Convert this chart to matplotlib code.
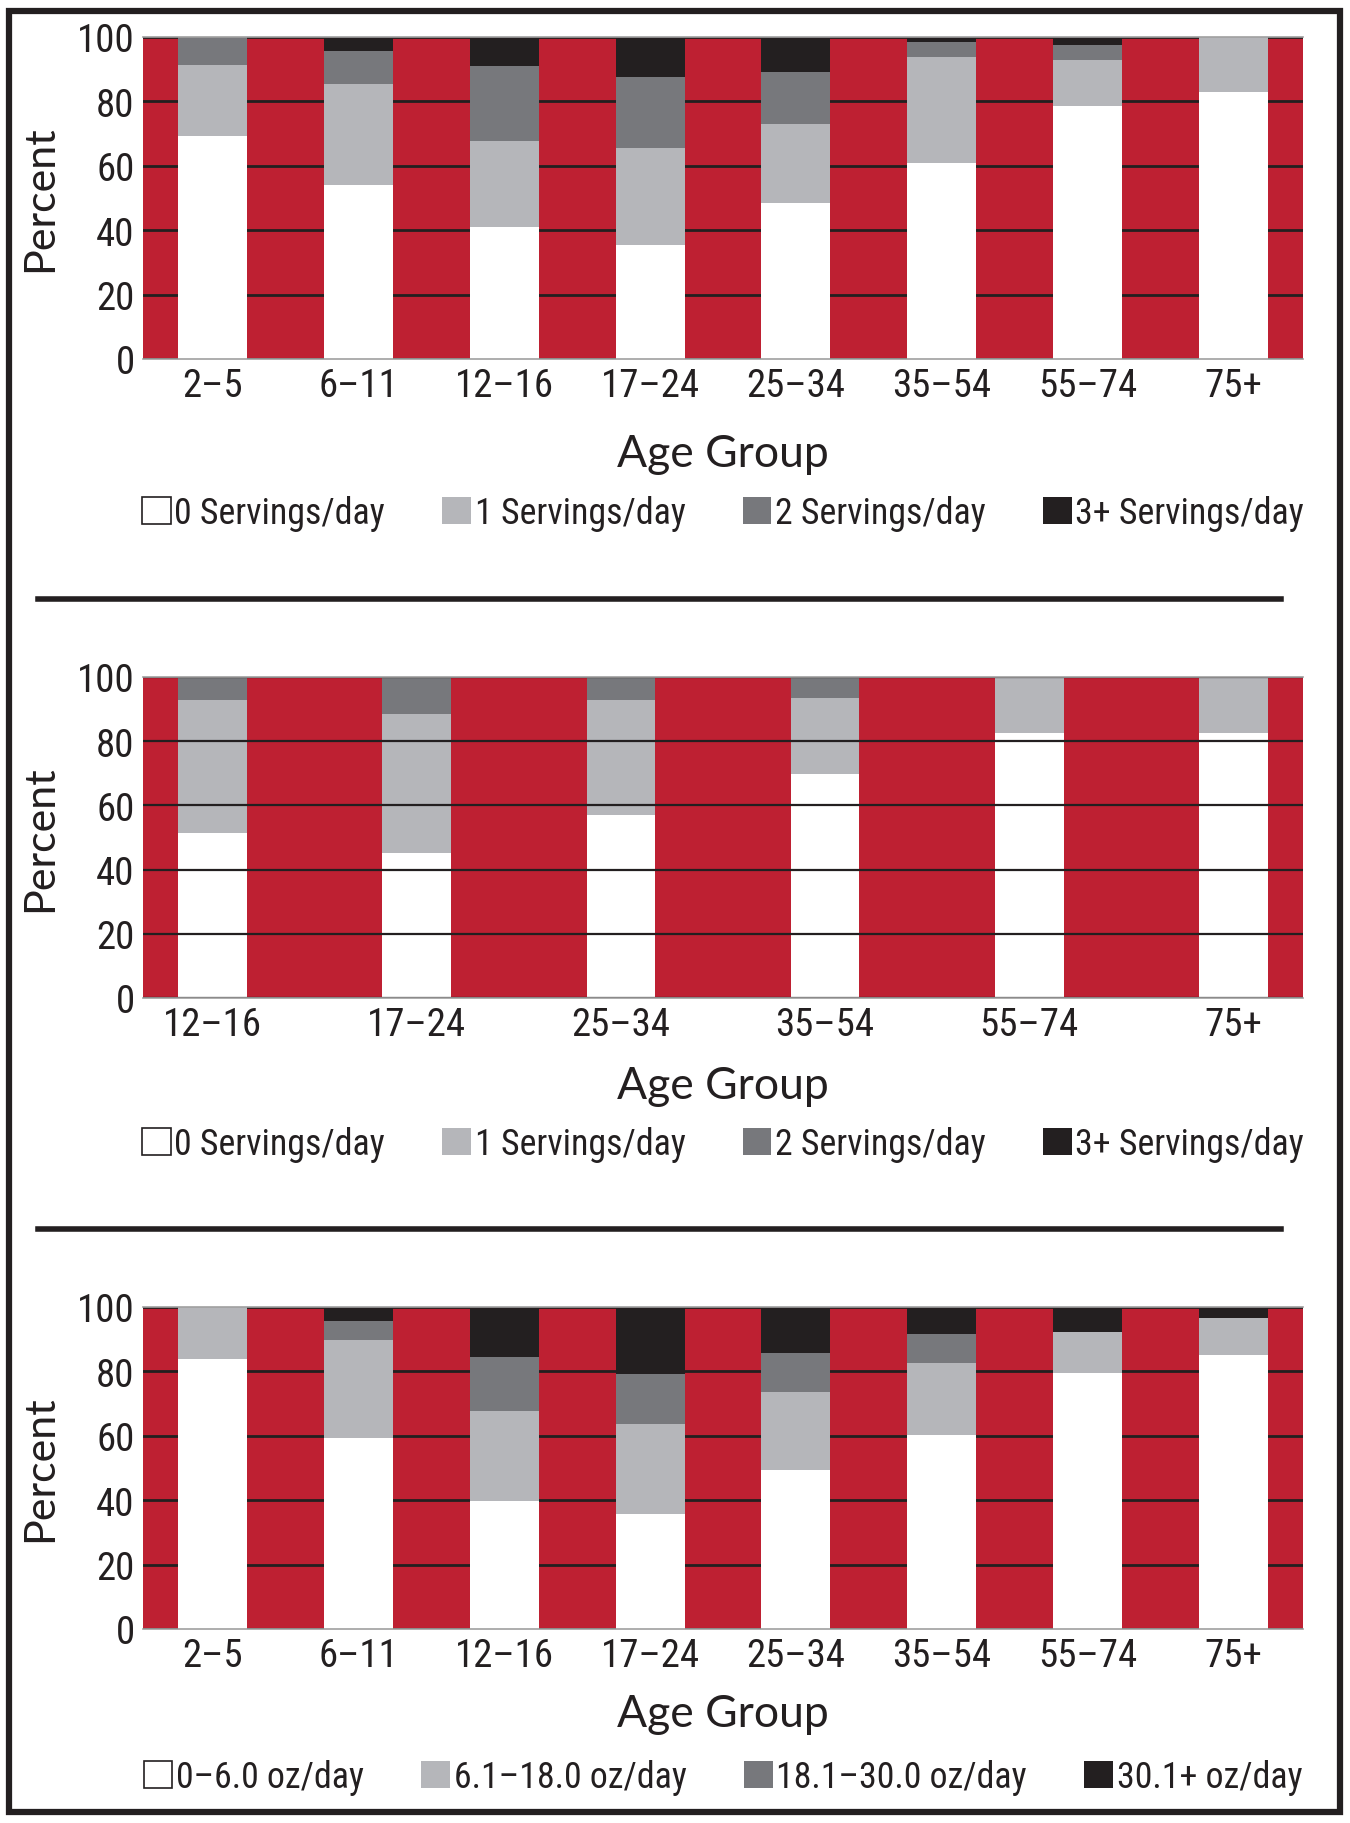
import matplotlib
matplotlib.use('Agg')
import numpy as np
import matplotlib.pyplot as plt
from matplotlib import font_manager
from matplotlib.patches import Patch, Rectangle
from matplotlib.lines import Line2D

# data (percent of each age group)
ages_all = ['2–5', '6–11', '12–16', '17–24', '25–34', '35–54', '55–74', '75+']
ages_teen = ['12–16', '17–24', '25–34', '35–54', '55–74', '75+']

serv_labels = ['0 Servings/day', '1 Servings/day', '2 Servings/day', '3+ Servings/day']
oz_labels = ['0–6.0 oz/day', '6.1–18.0 oz/day', '18.1–30.0 oz/day', '30.1+ oz/day']

# panel 1
p1_zero = [69.1, 54.1, 41.1, 35.3, 48.5, 60.8, 78.5, 83.0]
p1_one = [22.1, 31.4, 26.5, 30.1, 24.5, 33.0, 14.3, 17.0]
p1_two = [8.8, 10.0, 23.4, 22.1, 16.1, 4.5, 4.8, 0.0]
p1_three = [0.0, 4.5, 9.0, 12.5, 10.9, 1.7, 2.4, 0.0]

# panel 2
p2_zero = [51.3, 45.3, 57.0, 69.7, 82.4, 82.7]
p2_one = [41.6, 43.3, 35.9, 23.8, 17.6, 17.3]
p2_two = [7.1, 11.4, 7.1, 6.5, 0.0, 0.0]
p2_three = [0.0, 0.0, 0.0, 0.0, 0.0, 0.0]

# panel 3
p3_zero = [83.7, 59.2, 39.8, 35.6, 49.5, 60.3, 79.6, 85.2]
p3_one = [16.3, 30.6, 27.8, 28.0, 24.1, 22.3, 12.6, 11.5]
p3_two = [0.0, 6.0, 16.9, 15.7, 12.1, 9.1, 0.0, 0.0]
p3_three = [0.0, 4.2, 15.5, 20.7, 14.3, 8.3, 7.8, 3.3]

RED = '#BE2032'
INK = '#231F20'
COLS = ['#FFFFFF', '#B5B6BA', '#77787C', INK]

# look for a condensed face, the original uses one for ticks and legends
fonts = font_manager.fontManager.ttflist
names = {f.name for f in fonts}
NARROW = None
for cand in ['Liberation Sans Narrow', 'Roboto Condensed', 'Open Sans Condensed',
             'Noto Sans Condensed', 'DejaVu Sans Condensed']:
    if cand in names:
        NARROW = dict(family=cand)
        break
if NARROW is None:
    for f in fonts:
        if 'condensed' in str(f.stretch) and 'Sans' in f.name and 'CJK' not in f.name:
            NARROW = dict(family=f.name, stretch=f.stretch)
            break
if NARROW is None:
    NARROW = dict(family='Liberation Sans')
WIDE = 'Lato' if 'Lato' in names else 'Liberation Sans'
TICK_SIZE = 28 if NARROW['family'] != 'Liberation Sans' else 25

W, H = 1350, 1824
fig = plt.figure(figsize=(W / 100, H / 100), dpi=100)
fig.patch.set_facecolor('white')


def fx(px):
    return px / W


def fy(py):
    return 1 - py / H


def panel(top, bottom, labels, stacks, width, margin, leg_labels, grid_over, xl_y, leg_y):
    left, right = 143, 1303
    ax = fig.add_axes([fx(left), fy(bottom), fx(right - left), (bottom - top) / H])
    x = np.arange(len(labels))
    ax.set_facecolor(RED)
    base = np.zeros(len(labels))
    for vals, c in zip(stacks, COLS):
        vals = np.array(vals)
        ax.bar(x, vals, width, bottom=base, color=c, linewidth=0, zorder=2)
        base += vals
    ax.set_ylim(0, 100)
    ax.set_xlim(-width / 2 - margin, len(labels) - 1 + width / 2 + margin)
    ax.set_yticks(range(0, 101, 20))
    ax.set_xticks(x)
    ax.set_xticklabels(labels)
    ax.yaxis.grid(True, color=INK, lw=2 if not grid_over else 1.6)
    ax.xaxis.grid(False)
    ax.set_axisbelow(not grid_over)
    for s in ['left', 'right']:
        ax.spines[s].set_visible(False)
    for s in ['top', 'bottom']:
        ax.spines[s].set_color('#A0A0A0')
        ax.spines[s].set_linewidth(1.2)
        ax.spines[s].set_zorder(3)
    ax.tick_params(length=0, labelsize=TICK_SIZE, colors=INK)
    ax.tick_params(axis='y', pad=6)
    ax.tick_params(axis='x', pad=6)
    for t in ax.get_xticklabels() + ax.get_yticklabels():
        t.set_fontfamily(NARROW['family'])
        if 'stretch' in NARROW:
            t.set_fontstretch(NARROW['stretch'])
    ax.set_ylabel('Percent', fontsize=31, family=WIDE, color=INK)
    ax.yaxis.set_label_coords(-0.072, 0.5)
    ax.set_xlabel('Age Group', fontsize=32, family=WIDE, color=INK)
    ax.xaxis.set_label_coords(0.5, xl_y)
    handles = [Patch(facecolor=COLS[0], edgecolor=INK, linewidth=1.2)] + \
              [Patch(facecolor=c, edgecolor='none') for c in COLS[1:]]
    leg = ax.legend(handles, leg_labels, ncol=4, loc='center', bbox_to_anchor=(0.5, leg_y),
                    frameon=False, handlelength=0.8, handleheight=0.8, handletextpad=0.1,
                    columnspacing=1.6, borderpad=0, borderaxespad=0,
                    prop=dict(size=28, **NARROW), labelcolor=INK)
    # shrink legend so it spans about the width of the plot area
    fig.canvas.draw()
    wpx = leg.get_window_extent().width
    size = 28 * 1160 / wpx
    leg.remove()
    ax.legend(handles, leg_labels, ncol=4, loc='center', bbox_to_anchor=(0.5, leg_y),
              frameon=False, handlelength=0.8, handleheight=0.8, handletextpad=0.1,
              columnspacing=1.6, borderpad=0, borderaxespad=0,
              prop=dict(size=size, **NARROW), labelcolor=INK)
    return ax


panel(38, 360, ages_all, [p1_zero, p1_one, p1_two, p1_three], 0.4725, 0.242,
      serv_labels, False, -0.23, -0.478)
panel(678, 999, ages_teen, [p2_zero, p2_one, p2_two, p2_three], 0.337, 0.173,
      serv_labels, True, -0.21, -0.455)
panel(1308, 1630, ages_all, [p3_zero, p3_one, p3_two, p3_three], 0.4725, 0.242,
      oz_labels, False, -0.20, -0.46)

# separators and outer frame
for yy in (600, 1230):
    fig.add_artist(Line2D([fx(38), fx(1281)], [fy(yy), fy(yy)], lw=4, color=INK))
fig.add_artist(Rectangle((fx(9), fy(1813)), fx(1340 - 9), (1813 - 12) / H,
                         fill=False, lw=4.5, edgecolor=INK, transform=fig.transFigure))

fig.savefig('out.png', dpi=100)
